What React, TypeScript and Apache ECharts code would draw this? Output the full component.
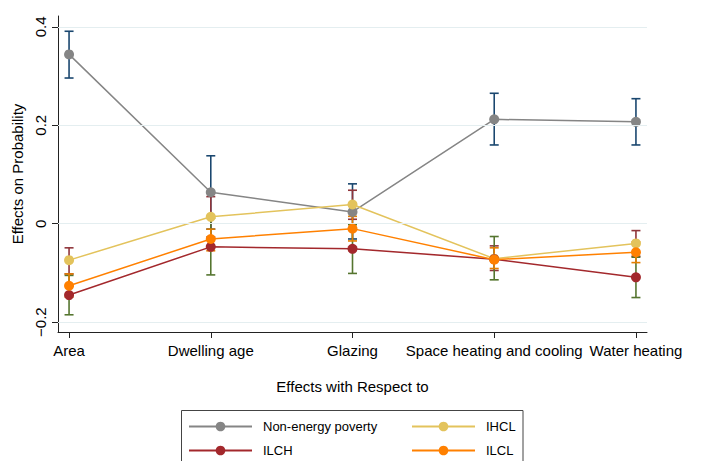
import React, { useEffect, useRef } from "react";
import * as echarts from "echarts";

const categories = ["Area", "Dwelling age", "Glazing", "Space heating and cooling", "Water heating"];
const yTicks = [-0.2, 0, 0.2, 0.4];

const seriesNames = ["Non-energy poverty", "IHCL", "ILCH", "ILCL"];

const nonEnergy = [0.344, 0.064, 0.024, 0.212, 0.207];
const nonEnergyLo = [0.296, -0.011, -0.031, 0.16, 0.16];
const nonEnergyHi = [0.391, 0.138, 0.081, 0.265, 0.254];

const ihcl = [-0.074, 0.014, 0.039, -0.071, -0.04];
const ihclLo = [-0.102, -0.027, 0.009, -0.095, -0.066];
const ihclHi = [-0.049, 0.055, 0.068, -0.045, -0.014];

const ilch = [-0.145, -0.047, -0.051, -0.072, -0.109];
const ilchLo = [-0.185, -0.104, -0.101, -0.114, -0.15];
const ilchHi = [-0.105, 0.011, -0.002, -0.026, -0.068];

const ilcl = [-0.126, -0.031, -0.01, -0.073, -0.058];
const ilclLo = [-0.149, -0.055, -0.035, -0.091, -0.079];
const ilclHi = [-0.102, -0.011, 0.015, -0.049, -0.037];

const lineColors = ["#858585", "#e3c35c", "#a3282c", "#ff8000"];
const ciColors = ["#1a476f", "#90353b", "#55752f", "#e37e00"];

const FONT = "Liberation Sans, Arial, Helvetica, sans-serif";

export default function App() {
  const ref = useRef<HTMLDivElement>(null);

  useEffect(() => {
    document.body.style.margin = "0";
    const chart = echarts.init(ref.current!, null, { renderer: "svg" });

    const points = [nonEnergy, ihcl, ilch, ilcl];
    const los = [nonEnergyLo, ihclLo, ilchLo, ilclLo];
    const his = [nonEnergyHi, ihclHi, ilchHi, ilclHi];

    const errorSeries = points.map((_, s) => ({
      type: "custom",
      name: seriesNames[s] + " CI",
      z: 2,
      silent: true,
      encode: { x: 0, y: [1, 2] },
      data: categories.map((_, i) => [i, los[s][i], his[s][i]]),
      renderItem: (params: any, api: any) => {
        const x = api.value(0);
        const pLo = api.coord([x, api.value(1)]);
        const pHi = api.coord([x, api.value(2)]);
        const hw = 4.5;
        const style = { stroke: ciColors[s], lineWidth: 1.6 };
        return {
          type: "group",
          children: [
            { type: "line", shape: { x1: pLo[0], y1: pLo[1], x2: pHi[0], y2: pHi[1] }, style },
            { type: "line", shape: { x1: pLo[0] - hw, y1: pLo[1], x2: pLo[0] + hw, y2: pLo[1] }, style },
            { type: "line", shape: { x1: pHi[0] - hw, y1: pHi[1], x2: pHi[0] + hw, y2: pHi[1] }, style },
          ],
        };
      },
    }));

    const lineSeries = points.map((vals, s) => ({
      type: "line",
      name: seriesNames[s],
      z: 3 + s,
      data: vals.map((v, i) => [i, v]),
      symbol: "circle",
      symbolSize: 10,
      showSymbol: true,
      itemStyle: { color: lineColors[s] },
      lineStyle: { color: lineColors[s], width: 1.5 },
      emphasis: { disabled: true },
    }));

    const gridSeries = {
      type: "line",
      name: "grid",
      z: 0,
      data: [],
      silent: true,
      markLine: {
        silent: true,
        symbol: ["none", "none"],
        label: { show: false },
        lineStyle: { color: "#e4eef0", type: "solid", width: 1 },
        data: yTicks.map((v) => ({ yAxis: v })),
      },
    };

    const legendBase = {
      orient: "horizontal",
      padding: 0,
      itemWidth: 63,
      itemHeight: 12,
      textStyle: { fontSize: 13, color: "#000", fontFamily: FONT, padding: [0, 0, 0, 6] },
      selectedMode: false,
    };

    chart.setOption({
      animation: false,
      textStyle: { fontFamily: FONT },
      grid: { left: 58, right: 68, top: 16, bottom: 129 },
      xAxis: {
        type: "value",
        min: -0.078,
        max: 4.078,
        name: "Effects with Respect to",
        nameLocation: "middle",
        nameGap: 47,
        nameTextStyle: { fontSize: 15, color: "#000", fontFamily: FONT },
        axisLine: { show: true, onZero: false, lineStyle: { color: "#222", width: 1 } },
        axisTick: { show: true, length: 6, customValues: [0, 1, 2, 3, 4], lineStyle: { color: "#222" } },
        axisLabel: {
          customValues: [0, 1, 2, 3, 4],
          formatter: (v: number) => categories[Math.round(v)] ?? "",
          fontSize: 15,
          color: "#000",
          margin: 11,
          fontFamily: FONT,
        },
        splitLine: { show: false },
      },
      yAxis: {
        type: "value",
        min: -0.22,
        max: 0.422,
        name: "Effects on Probability",
        nameLocation: "middle",
        nameGap: 30,
        nameRotate: 90,
        nameTextStyle: { fontSize: 15, color: "#000", fontFamily: FONT },
        axisLine: { show: true, onZero: false, lineStyle: { color: "#222", width: 1 } },
        axisTick: { show: true, length: 6, customValues: yTicks, lineStyle: { color: "#222" } },
        axisLabel: {
          customValues: yTicks,
          rotate: 90,
          formatter: (v: number) => (Math.abs(v) < 1e-9 ? "0" : String(Math.round(v * 10) / 10).replace("-", "\u2212")),
          fontSize: 15,
          color: "#000",
          margin: 10,
          fontFamily: FONT,
        },
        splitLine: { show: false },
      },
      legend: [
        { ...legendBase, data: [seriesNames[0]], left: 188, top: 420 },
        { ...legendBase, data: [seriesNames[1]], left: 411, top: 420 },
        { ...legendBase, data: [seriesNames[2]], left: 188, top: 444 },
        { ...legendBase, data: [seriesNames[3]], left: 411, top: 444 },
      ],
      graphic: [
        {
          type: "rect",
          shape: { x: 181.5, y: 410.5, width: 341.5, height: 80 },
          style: { fill: "none", stroke: "#444", lineWidth: 1 },
          silent: true,
          z: -1,
        },
      ],
      series: [gridSeries, ...errorSeries, ...lineSeries],
    });

    return () => chart.dispose();
  }, []);

  return <div ref={ref} style={{ width: 715, height: 461 }} />;
}
